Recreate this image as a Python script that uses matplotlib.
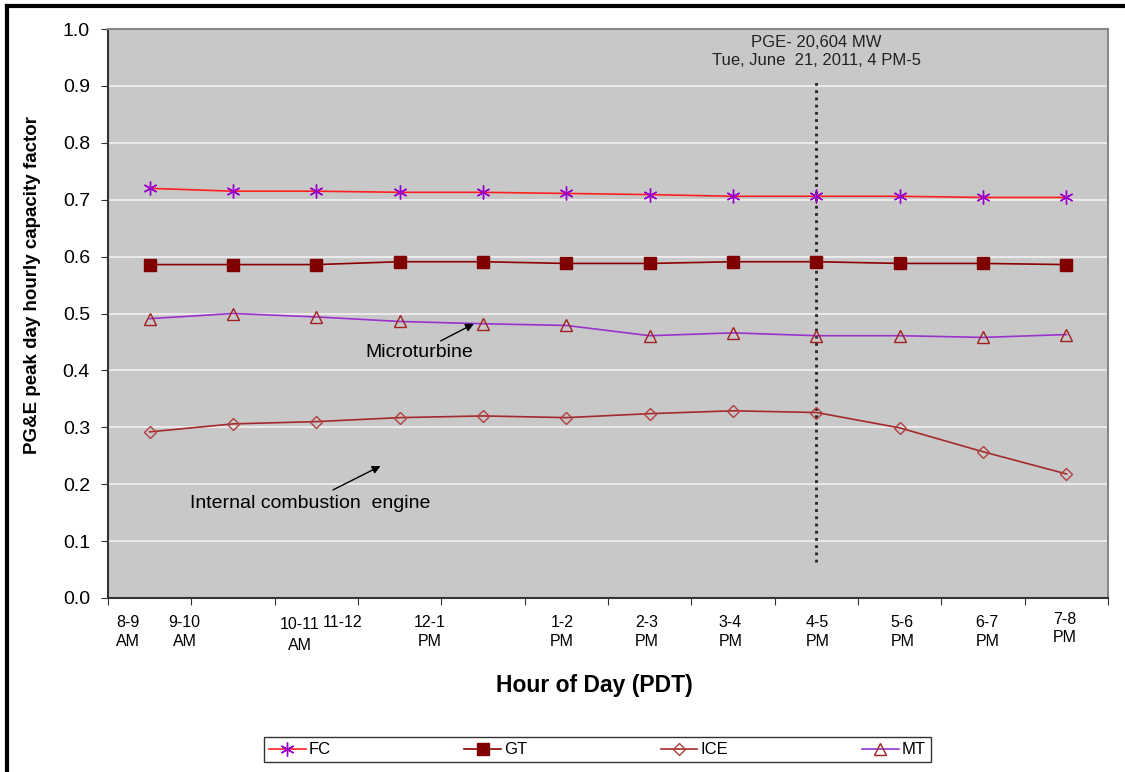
import numpy as np
import matplotlib.pyplot as plt
from matplotlib.lines import Line2D

plt.rcParams['font.family'] = ['Liberation Sans', 'DejaVu Sans']

# dados
hours = ['8-9\nAM', '9-10\nAM', '10-11\nAM', '11-12', '12-1\nPM', '1-2\nPM',
         '2-3\nPM', '3-4\nPM', '4-5\nPM', '5-6\nPM', '6-7\nPM', '7-8\nPM']
label_pos = [-0.26, 0.42, 1.8, 2.31, 3.36, 4.95, 5.96, 6.97, 8.01, 9.03, 10.05, 10.98]

fc = [0.720, 0.715, 0.715, 0.713, 0.713, 0.711, 0.709, 0.706, 0.706, 0.706, 0.704, 0.704]
gt = [0.586, 0.586, 0.586, 0.591, 0.591, 0.588, 0.588, 0.591, 0.591, 0.588, 0.588, 0.586]
ice = [0.292, 0.306, 0.310, 0.317, 0.320, 0.317, 0.324, 0.329, 0.326, 0.299, 0.257, 0.218]
mt = [0.491, 0.500, 0.494, 0.486, 0.482, 0.479, 0.461, 0.466, 0.461, 0.461, 0.458, 0.463]

peak_idx = 8

x = np.arange(len(hours))

fig = plt.figure(figsize=(11.25, 7.72), dpi=100)
ax = fig.add_axes([0.096, 0.2254, 0.889, 0.737])
ax.set_facecolor('#C8C8C8')

# grade horizontal branca
for yv in np.arange(0.1, 1.0, 0.1):
    ax.axhline(yv, color='#F2F2F2', lw=1.2, zorder=1)

ax.plot(x, fc, color='#FF2020', lw=1.2, marker=(6, 2, 0), ms=10,
        mec='#9900CC', mew=1.0, label='FC', zorder=3)
ax.plot(x, gt, color='#8B0000', lw=1.2, marker='s', ms=9,
        mfc='#800000', mec='#800000', label='GT', zorder=3)
ax.plot(x, ice, color='#A52A2A', lw=1.2, marker='D', ms=6,
        mfc='none', mec='#B04040', mew=1.0, label='ICE', zorder=3)
ax.plot(x, mt, color='#9933CC', lw=1.2, marker='^', ms=9,
        mfc='none', mec='#A02020', mew=1.0, label='MT', zorder=3)

# linha do pico
ax.plot([peak_idx, peak_idx], [0.063, 0.908], color='#222222', ls=(0, (1, 1.6)),
        lw=2, zorder=2)
ax.text(peak_idx, 0.99, 'PGE- 20,604 MW\nTue, June  21, 2011, 4 PM-5',
        ha='center', va='top', fontsize=12, color='#222222', linespacing=1.3)

ax.annotate('Microturbine', xy=(3.89, 0.482), xytext=(3.23, 0.432),
            fontsize=14, ha='center', va='center',
            arrowprops=dict(arrowstyle='-|>', color='black', lw=1,
                            shrinkA=0, shrinkB=0, mutation_scale=12))
ax.annotate('', xy=(2.77, 0.232), xytext=(2.2, 0.19),
            arrowprops=dict(arrowstyle='-|>', color='black', lw=1,
                            shrinkA=0, shrinkB=0, mutation_scale=12))
ax.text(1.92, 0.166, 'Internal combustion  engine', fontsize=14,
        ha='center', va='center')

ax.set_xlim(-0.5, 11.5)
ax.set_ylim(0, 1.0)
ax.set_yticks(np.arange(0, 1.01, 0.1))
ax.set_yticklabels([f'{v:.1f}' for v in np.arange(0, 1.01, 0.1)], fontsize=14)
ax.set_xticks(np.arange(-0.5, 12, 1))
ax.set_xticklabels([])
ax.tick_params(axis='x', length=5, direction='out', color='#333333')
ax.tick_params(axis='y', length=5, direction='out', color='#333333', pad=8)

for i, lab in enumerate(hours):
    dy = -0.03
    if i == 2:
        dy = -0.033
    if i == 11:
        dy = -0.024
    ax.text(label_pos[i], dy, lab, ha='center', va='top', fontsize=11.5,
            linespacing=1.3 if i != 2 else 1.5,
            transform=ax.get_xaxis_transform())

for s in ['top', 'right']:
    ax.spines[s].set_color('#888888')
    ax.spines[s].set_linewidth(1.5)
for s in ['left', 'bottom']:
    ax.spines[s].set_color('#333333')
    ax.spines[s].set_linewidth(1.5)

fig.text(0.029, 0.631, 'PG&E peak day hourly capacity factor', fontsize=13.5,
         fontweight='bold', rotation=90, ha='center', va='center')
fig.text(0.528, 0.112, 'Hour of Day (PDT)', fontsize=16.5, fontweight='bold',
         ha='center', va='center')

handles, labels = ax.get_legend_handles_labels()
leg = fig.legend(handles, labels, loc='center', ncol=4,
                 bbox_to_anchor=(0.531, 0.0285), fontsize=12,
                 frameon=True, fancybox=False, edgecolor='black',
                 handlelength=2.2, columnspacing=8.0, borderpad=0.3,
                 handletextpad=0.2, borderaxespad=0)
leg.get_frame().set_linewidth(1.0)

# moldura preta da figura (topo e esquerda)
fig.add_artist(Line2D([0.0065, 1.0], [0.9925, 0.9925], color='black', lw=3,
                      transform=fig.transFigure))
fig.add_artist(Line2D([0.0065, 0.0065], [0.0, 0.9925], color='black', lw=3,
                      transform=fig.transFigure))

fig.savefig('out.png', dpi=100)
